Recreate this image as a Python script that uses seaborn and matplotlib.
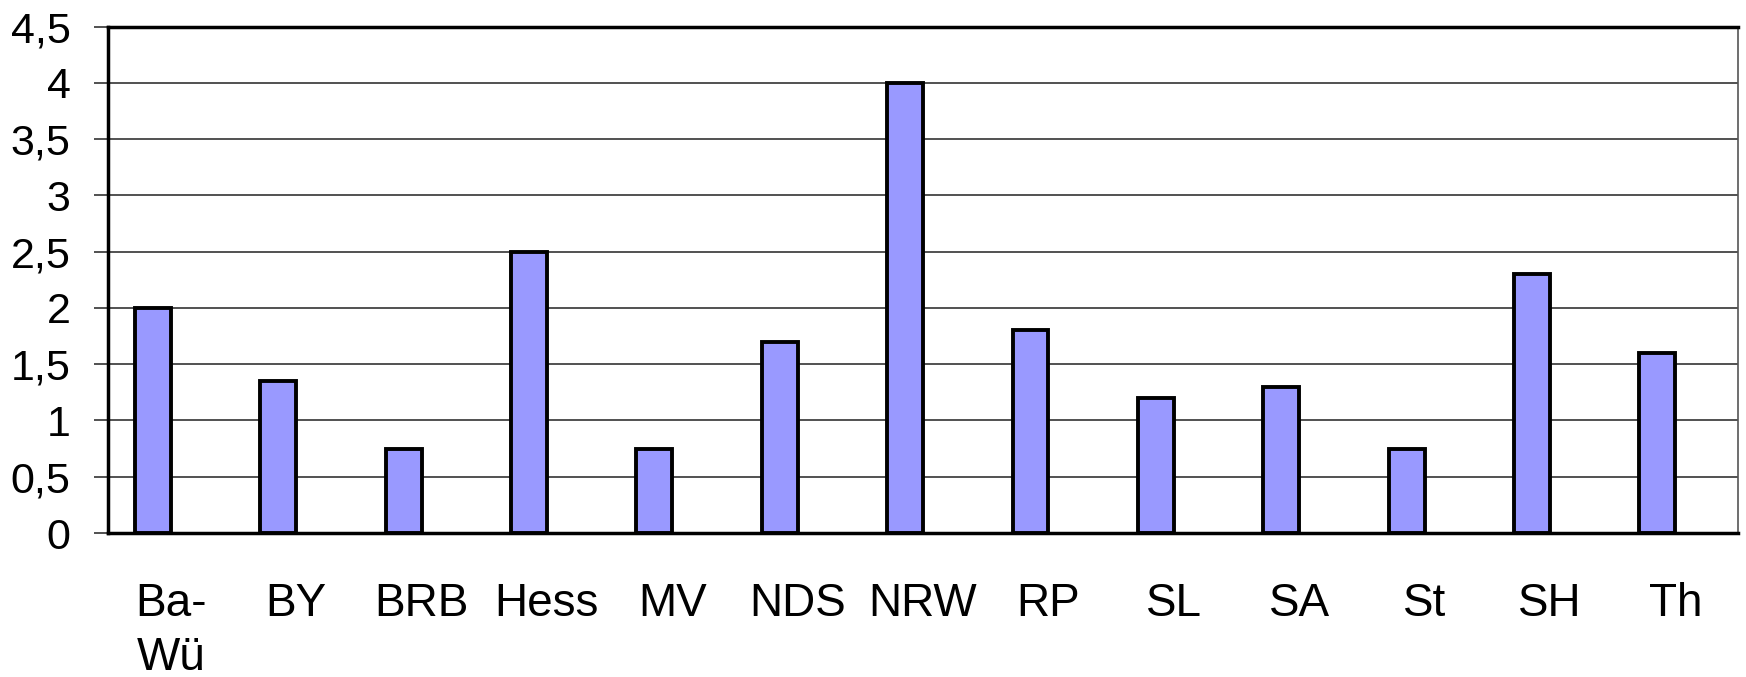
import pandas as pd
import numpy as np
import seaborn as sns
import matplotlib.pyplot as plt
from matplotlib.ticker import MultipleLocator, FuncFormatter

# values
laender = ["Ba-\nWü", "BY", "BRB", "Hess", "MV", "NDS", "NRW", "RP", "SL", "SA", "St", "SH", "Th"]
werte = [2.0, 1.35, 0.75, 2.5, 0.75, 1.7, 4.0, 1.8, 1.2, 1.3, 0.75, 2.3, 1.6]

data = pd.DataFrame({"Land": laender, "Wert": werte, "Reihe": "Reihe1"})

sns.set_style("white")
plt.rcParams["font.family"] = ["Liberation Sans", "DejaVu Sans"]
plt.rcParams["text.color"] = "black"
plt.rcParams["xtick.color"] = "black"
plt.rcParams["ytick.color"] = "black"

fig = plt.figure(figsize=(17.46, 6.77), dpi=100)
ax = fig.add_axes([0.0619, 0.2127, 0.9335, 0.748])

# excel style: an empty second series leaves the bars shifted left in each slot
sns.barplot(data=data, x="Land", y="Wert", hue="Reihe", hue_order=["Reihe1", "Reihe2"],
            palette={"Reihe1": "#9999FF", "Reihe2": "#9999FF"}, width=0.5714, dodge=True,
            saturation=1, edgecolor="black", linewidth=2.8, legend=False, ax=ax, zorder=3)

ax.set_xlim(-0.5, len(laender) - 0.5)
ax.set_ylim(0, 4.5)
ax.yaxis.set_major_locator(MultipleLocator(0.5))
ax.yaxis.set_major_formatter(FuncFormatter(lambda v, p: ("%g" % v).replace(".", ",")))
ax.grid(axis="y", color="#222222", linewidth=1.1, zorder=0)
ax.set_axisbelow(True)

ax.set_xticks(np.arange(len(laender)))
ax.set_xticks(np.arange(len(laender) + 1) - 0.5, minor=True)
ax.tick_params(axis="x", which="major", length=0, pad=35, labelsize=33, labelcolor="black")
ax.tick_params(axis="x", which="minor", length=11, width=1.2, color="#333333", direction="out")
ax.tick_params(axis="y", length=10, width=1.2, color="#333333", pad=17, labelsize=31,
               labelcolor="black", left=True)
for lbl in ax.get_xticklabels():
    lbl.set_linespacing(1.3)
ax.set_xlabel("")
ax.set_ylabel("")

for side in ["left", "bottom", "top"]:
    ax.spines[side].set_color("black")
    ax.spines[side].set_linewidth(2.5)
ax.spines["right"].set_color("#555555")
ax.spines["right"].set_linewidth(1.2)

fig.savefig("out.png", dpi=100)
